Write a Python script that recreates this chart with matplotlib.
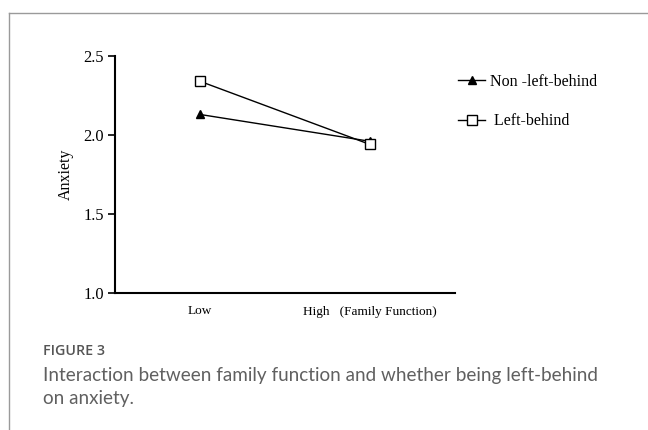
import numpy as np
import matplotlib
matplotlib.use("Agg")
from matplotlib import pyplot as plt
from matplotlib.lines import Line2D

# data
levels = ["Low", "High   (Family Function)"]
non_left_behind = [2.13, 1.96]
left_behind = [2.34, 1.94]
yticks = [1.0, 1.5, 2.0, 2.5]

serif = ["Liberation Serif", "DejaVu Serif"]

fig = plt.figure(figsize=(6.48, 4.30), dpi=100)

# card frame (top and left border)
fig.add_artist(Line2D([9 / 648, 9 / 648], [0, 1 - 13 / 430], color="#9a9a9a", lw=1.0))
fig.add_artist(Line2D([9 / 648, 1], [1 - 13 / 430, 1 - 13 / 430], color="#9a9a9a", lw=1.0))

ax = fig.add_axes([115 / 648, 1 - 293 / 430, 340 / 648, 237 / 430])
x = np.arange(1, len(levels) + 1)
ax.plot(x, non_left_behind, color="black", lw=1.0, marker="^", ms=6,
        mfc="black", mec="black", label="Non -left-behind")
ax.plot(x, left_behind, color="black", lw=1.0, marker="s", ms=7,
        mfc="white", mec="black", mew=1.0, label=" Left-behind")

ax.set_xlim(0.5, 2.5)
ax.set_ylim(1.0, 2.5)
ax.set_yticks(yticks)
ax.set_yticklabels([f"{v:.1f}" for v in yticks], family=serif, fontsize=11.8)
ax.set_xticks(x)
ax.set_xticklabels(levels, family=serif, fontsize=9.5)
ax.tick_params(axis="x", length=0, pad=9)
ax.tick_params(axis="y", length=5, width=1.2, direction="out", pad=3)
for s in ["top", "right"]:
    ax.spines[s].set_visible(False)
for s in ["left", "bottom"]:
    ax.spines[s].set_linewidth(1.5)
ax.set_ylabel("Anxiety", family=serif, fontsize=11.5, labelpad=7)

leg = ax.legend(loc="upper left", bbox_to_anchor=(458 / 648, 1 - 74 / 430),
                bbox_transform=fig.transFigure, frameon=False,
                prop={"family": serif, "size": 11.5}, handlelength=1.7,
                labelspacing=1.45, handletextpad=0.3, borderaxespad=0.0,
                borderpad=0.0)

fig.text(43 / 648, 1 - 351 / 430, "FIGURE 3", fontsize=10.3, color="#555555",
         family=["Open Sans", "DejaVu Sans"], weight="semibold", va="center")
fig.text(43 / 648, 1 - 387 / 430,
         "Interaction between family function and whether being left-behind\non anxiety.",
         fontsize=13.6, color="#606060", family=["Lato", "DejaVu Sans"],
         va="center", linespacing=1.42)

fig.savefig("out.png", dpi=100)
